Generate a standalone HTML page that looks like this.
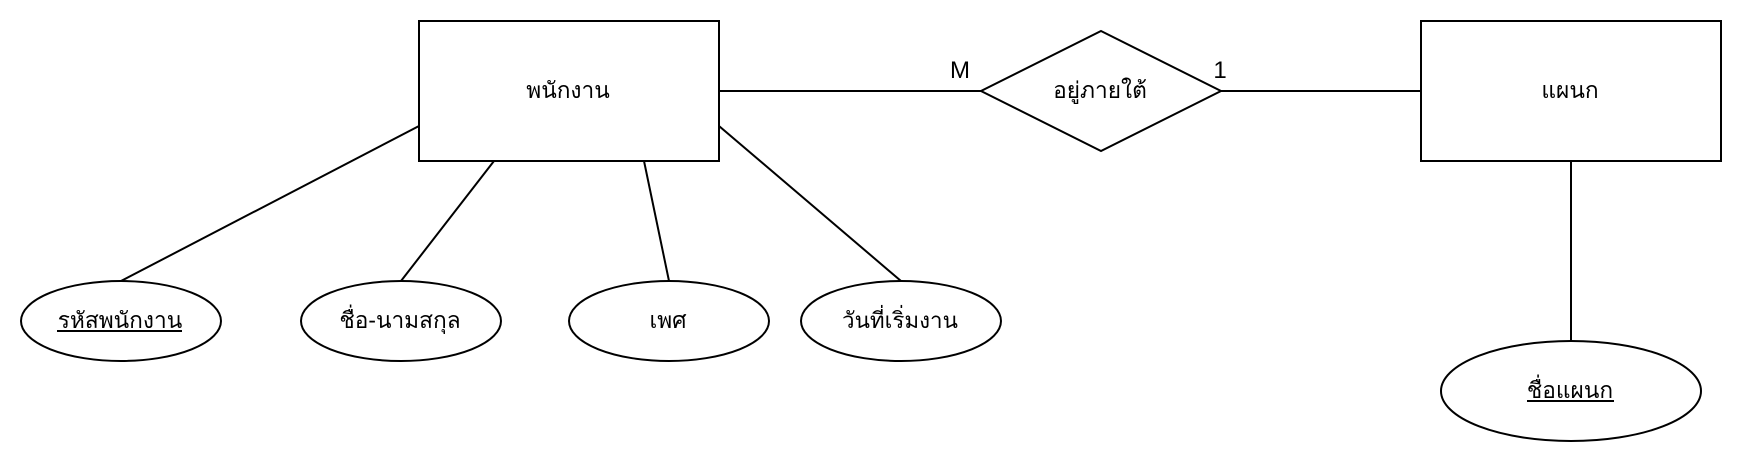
<!DOCTYPE html>
<html lang="th">
<head>
<meta charset="utf-8">
<title>ER Diagram</title>
<style>
html,body{margin:0;padding:0;background:#fff;width:1742px;height:462px;overflow:hidden}
svg{display:block}
text{font-family:"Liberation Sans","DejaVu Sans","Noto Sans CJK JP",sans-serif;font-size:22.7px;fill:#000;text-anchor:middle;dominant-baseline:auto}
.s{fill:#fff;stroke:#000;stroke-width:2}
.l{fill:none;stroke:#000;stroke-width:2}
</style>
</head>
<body>
<svg width="1742" height="462" viewBox="0 0 1742 462" xmlns="http://www.w3.org/2000/svg">
<rect width="1742" height="462" fill="#fff"/>
<path class="l" d="M419 126L121 281M494 161L401 281M644 161L669 281M719 126L901 281M719 91H981M1221 91H1421M1571 161V341"/>
<rect class="s" x="419" y="21" width="300" height="140"/>
<rect class="s" x="1421" y="21" width="300" height="140"/>
<polygon class="s" points="1101,31 1221,91 1101,151 981,91"/>
<ellipse class="s" cx="121" cy="321" rx="100" ry="40"/>
<ellipse class="s" cx="401" cy="321" rx="100" ry="40"/>
<ellipse class="s" cx="669" cy="321" rx="100" ry="40"/>
<ellipse class="s" cx="901" cy="321" rx="100" ry="40"/>
<ellipse class="s" cx="1571" cy="391" rx="130" ry="50"/>
<text x="568" y="98">พนักงาน</text>
<text x="1570" y="98">แผนก</text>
<text x="1100" y="98">อยู่ภายใต้</text>
<text x="960" y="78" style="font-size:24px">M</text>
<text x="1220" y="78" style="font-size:24px">1</text>
<text x="120" y="328">รหัสพนักงาน</text>
<rect x="57" y="330" width="125" height="2"/>
<text x="400" y="328">ชื่อ-นามสกุล</text>
<text x="668" y="328">เพศ</text>
<text x="900" y="328" style="font-size:22.4px">วันที่เริ่มงาน</text>
<text x="1570" y="398">ชื่อแผนก</text>
<rect x="1527" y="400" width="87" height="2"/>
</svg>
</body>
</html>
